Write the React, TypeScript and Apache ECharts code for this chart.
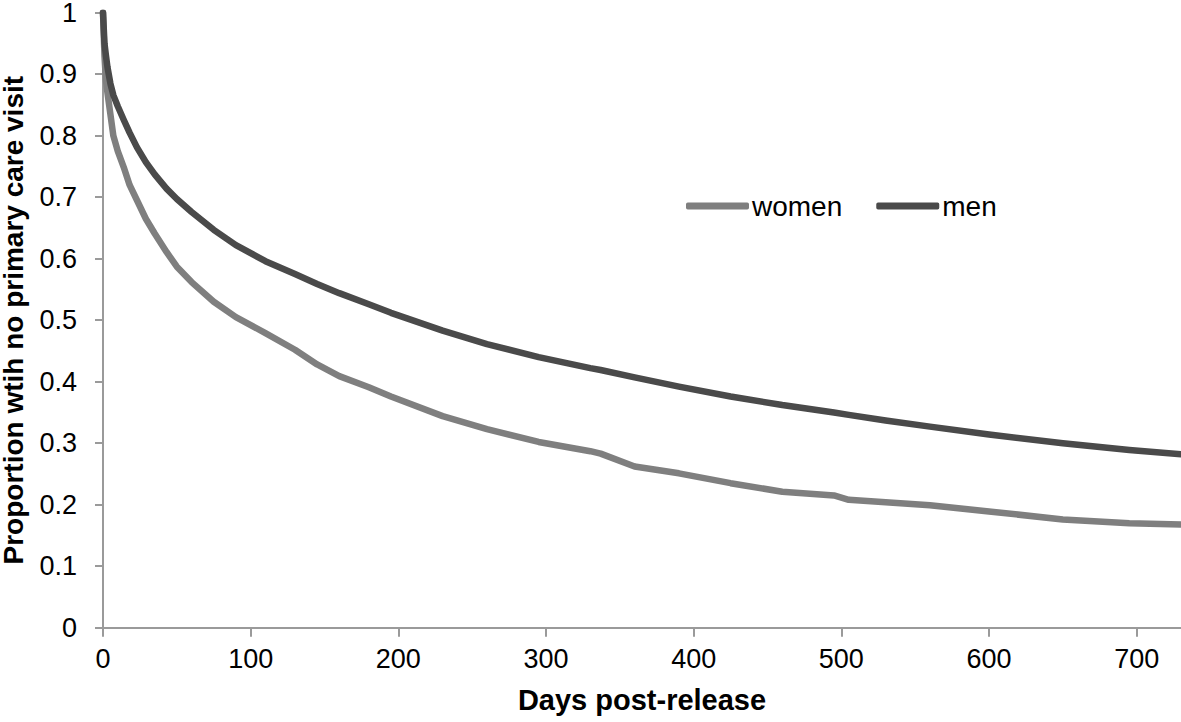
import React, { useEffect, useRef } from "react";
import * as echarts from "echarts";

const days = [0, 1, 2, 3, 5, 7, 10, 14, 18, 23, 29, 35, 43, 50, 60, 75, 90, 110, 130, 145, 160, 180, 195, 230, 260, 295, 330, 337, 360, 390, 425, 460, 495, 505, 530, 560, 600, 650, 695, 730];
const women = [1.0, 0.93, 0.89, 0.87, 0.835, 0.8, 0.775, 0.749, 0.72, 0.695, 0.665, 0.641, 0.611, 0.587, 0.562, 0.53, 0.505, 0.479, 0.452, 0.428, 0.409, 0.391, 0.376, 0.344, 0.323, 0.302, 0.287, 0.283, 0.262, 0.251, 0.235, 0.221, 0.215, 0.208, 0.204, 0.199, 0.189, 0.176, 0.17, 0.168];
const men = [1.0, 0.95, 0.93, 0.912, 0.885, 0.866, 0.848, 0.826, 0.805, 0.781, 0.757, 0.737, 0.714, 0.697, 0.676, 0.647, 0.622, 0.596, 0.575, 0.559, 0.544, 0.526, 0.512, 0.483, 0.461, 0.44, 0.422, 0.419, 0.407, 0.392, 0.376, 0.362, 0.35, 0.346, 0.337, 0.327, 0.314, 0.3, 0.289, 0.282];
const xTicks = [0, 100, 200, 300, 400, 500, 600, 700];
const seriesNames = ["women", "men"];
const xTitle = "Days post-release";
const yTitle = "Proportion wtih no primary care visit";

const FONT = "'Liberation Sans', Arial, sans-serif";

export default function App() {
  const ref = useRef<HTMLDivElement>(null);
  useEffect(() => {
    if (!ref.current) return;
    const chart = echarts.init(ref.current, null, { renderer: "svg" });
    const axisColor = "#9a9a9a";
    chart.setOption({
      animation: false,
      backgroundColor: "#ffffff",
      grid: { left: 103, right: 0, top: 12.7, bottom: 94.3, containLabel: false, outerBoundsMode: "none" },
      legend: {
        data: seriesNames,
        left: 686,
        top: 192,
        padding: 0,
        icon: "roundRect",
        itemWidth: 63,
        itemHeight: 7,
        itemGap: 34,
        textStyle: { fontFamily: FONT, fontSize: 28, color: "#000", padding: [0, 0, 0, -2] },
      },
      xAxis: {
        type: "value",
        min: 0,
        max: 730,
        interval: 100,
        name: xTitle,
        nameLocation: "middle",
        nameGap: 58,
        nameTextStyle: { fontFamily: FONT, fontSize: 29, fontWeight: "bold", color: "#000" },
        axisLine: { show: true, lineStyle: { color: axisColor, width: 2 } },
        axisTick: { show: true, length: 9, customValues: xTicks, lineStyle: { color: axisColor, width: 2 } },
        axisLabel: { customValues: xTicks, margin: 18, fontFamily: FONT, fontSize: 27, color: "#000" },
        splitLine: { show: false },
      },
      yAxis: {
        type: "value",
        min: 0,
        max: 1,
        interval: 0.1,
        name: yTitle,
        nameLocation: "middle",
        nameRotate: 90,
        nameGap: 76,
        nameTextStyle: { fontFamily: FONT, fontSize: 28, fontWeight: "bold", color: "#000" },
        axisLine: { show: true, lineStyle: { color: axisColor, width: 2 } },
        axisTick: { show: true, length: 8, lineStyle: { color: axisColor, width: 2 } },
        axisLabel: { margin: 26, fontFamily: FONT, fontSize: 27, color: "#000" },
        splitLine: { show: false },
      },
      series: [
        {
          name: seriesNames[0],
          type: "line",
          showSymbol: false,
          symbol: "none",
          smooth: false,
          data: days.map((d, i) => [d, women[i]]),
          lineStyle: { color: "#7f7f7f", width: 6.5, cap: "round", join: "round" },
          itemStyle: { color: "#7f7f7f" },
          z: 2,
        },
        {
          name: seriesNames[1],
          type: "line",
          showSymbol: false,
          symbol: "none",
          smooth: false,
          data: days.map((d, i) => [d, men[i]]),
          lineStyle: { color: "#4a4a4a", width: 6.5, cap: "round", join: "round" },
          itemStyle: { color: "#4a4a4a" },
          z: 3,
        },
      ],
    });
    return () => chart.dispose();
  }, []);
  return (
    <div
      ref={ref}
      style={{ position: "absolute", left: 0, top: 0, width: 1181, height: 722, background: "#fff" }}
    />
  );
}
